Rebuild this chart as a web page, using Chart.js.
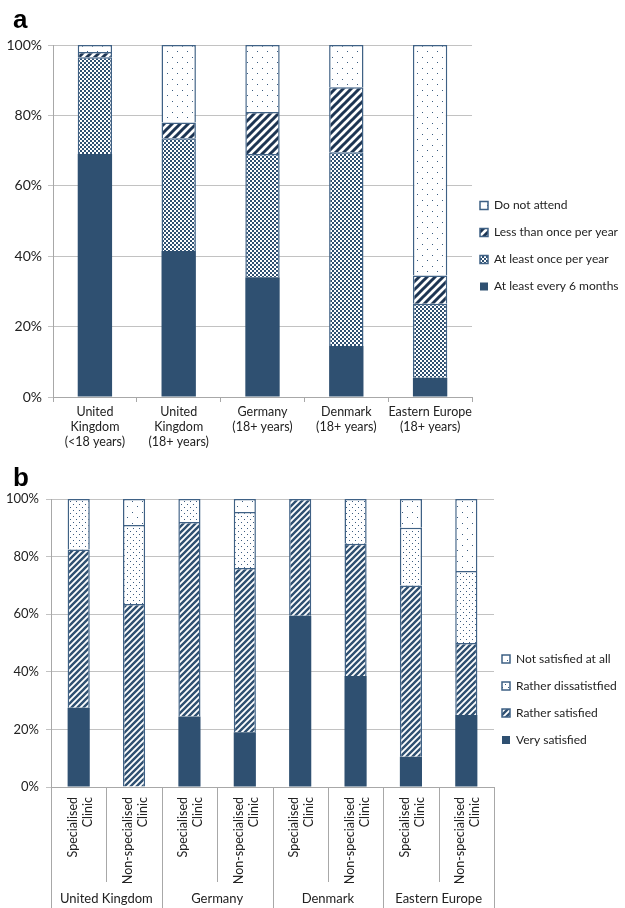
<!DOCTYPE html>
<html>
<head>
<meta charset="utf-8">
<script src="https://cdn.jsdelivr.net/npm/chart.js@4.4.1/dist/chart.umd.min.js"></script>
<style>
  body { margin: 0; background: #fff; }
  canvas { display: block; }
</style>
</head>
<body>
<canvas id="chartA" width="625" height="455"></canvas>
<canvas id="chartB" width="625" height="453"></canvas>
<script>
// --- panel a: how often clinics are attended
const attendCategories = [
    ['United', 'Kingdom', '(<18 years)'],
    ['United', 'Kingdom', '(18+ years)'],
    ['Germany', '(18+ years)'],
    ['Denmark', '(18+ years)'],
    ['Eastern Europe', '(18+ years)']
];
const every6Months = [69, 41.5, 34, 14.5, 5.5];
const oncePerYear = [27.5, 32, 35, 55, 21];
const lessThanYearly = [1.5, 4.5, 12, 18.5, 8];
const doNotAttend = [2, 22, 19, 12, 65.5];

// --- panel b: satisfaction by clinic type
const regions = ['United Kingdom', 'Germany', 'Denmark', 'Eastern Europe'];
const clinicTypes = [['Specialised', 'Clinic'], ['Non-specialised', 'Clinic']];
const verySatisfied = [27.5, 0, 24.5, 19, 59.5, 38.5, 10.5, 25];
const ratherSatisfied = [55, 63.5, 67.5, 57, 40.5, 46, 59.5, 25];
const ratherDissatisfied = [17.5, 27.5, 8, 19.5, 0, 15.5, 20, 25];
const notSatisfied = [0, 9, 0, 4.5, 0, 0, 10, 25];

const percentTicks = [0, 20, 40, 60, 80, 100];

Chart.defaults.font.family = 'Lato';
Chart.defaults.color = '#222';

const NAVY = '#2f5071';
const EDGE = '#3f6185';

function pattern(w, h, paint) {
    const c = document.createElement('canvas');
    c.width = w;
    c.height = h;
    const g = c.getContext('2d');
    g.fillStyle = '#fff';
    g.fillRect(0, 0, w, h);
    paint(g, w, h);
    return g.createPattern(c, 'repeat');
}

function stripes(g, w, h, color, lw) {
    g.strokeStyle = color;
    g.lineWidth = lw;
    g.beginPath();
    g.moveTo(0, h); g.lineTo(w, 0);
    g.moveTo(-w / 2, h / 2); g.lineTo(w / 2, -h / 2);
    g.moveTo(w / 2, h * 1.5); g.lineTo(w * 1.5, h / 2);
    g.stroke();
}

const sparseDots = pattern(10, 11, g => {
    g.fillStyle = '#3b5c80';
    g.fillRect(2, 2, 1, 1);
    g.fillRect(7, 7, 1, 1);
});
const denseDots = pattern(6, 6, g => {
    g.fillStyle = '#3b5c80';
    g.fillRect(1, 1, 1, 1);
    g.fillRect(4, 4, 1, 1);
});
const checker = pattern(4, 4, g => {
    g.fillStyle = NAVY;
    g.fillRect(0, 0, 4, 4);
    g.fillStyle = '#fff';
    g.fillRect(0, 0, 2, 2);
    g.fillRect(2, 2, 2, 2);
});
const boldHatch = pattern(8, 8, (g, w, h) => stripes(g, w, h, '#1d3553', 3));
const thinHatch = pattern(6, 6, (g, w, h) => stripes(g, w, h, NAVY, 2.4));

function segment(label, values, fill, border) {
    return {
        label: label,
        data: values.map(v => v || null),
        backgroundColor: fill,
        borderColor: EDGE,
        borderWidth: border
    };
}

// panel letter drawn on the canvas
const panelLetter = {
    id: 'panelLetter',
    afterDraw(chart, args, opts) {
        const ctx = chart.ctx;
        ctx.save();
        ctx.font = 'bold 26px "Liberation Sans"';
        ctx.fillStyle = '#000';
        ctx.textBaseline = 'alphabetic';
        ctx.fillText(opts.text, 13, opts.baseline);
        ctx.restore();
    }
};

// moves the legend a few pixels towards the plot
const nudgeLegend = {
    id: 'nudgeLegend',
    afterLayout(chart, args, opts) {
        const lg = chart.legend;
        lg.left += opts.dx;
        lg.right += opts.dx;
        lg.top += opts.dy;
        lg.bottom += opts.dy;
    }
};

// vertical dividers under panel b (short between clinic types, long between regions)
const clinicDividers = {
    id: 'clinicDividers',
    afterDraw(chart) {
        const x = chart.scales.x;
        const area = chart.chartArea;
        const ctx = chart.ctx;
        const n = x.getLabels().length;
        const step = x.width / n;
        ctx.save();
        ctx.strokeStyle = '#a8a8a8';
        ctx.lineWidth = 1;
        for (let i = 0; i <= n; i++) {
            const px = Math.round(x.left + i * step) + 0.5;
            const end = i % 2 === 0 ? chart.height : area.bottom + 95;
            ctx.beginPath();
            ctx.moveTo(px, area.bottom);
            ctx.lineTo(px, end);
            ctx.stroke();
        }
        ctx.restore();
    }
};

function yAxis(width, fontSize, pad) {
    return {
        stacked: true,
        min: 0,
        max: 100,
        afterFit: s => { s.width = width; },
        afterBuildTicks: s => { s.ticks = percentTicks.map(v => ({ value: v })); },
        ticks: { callback: v => v + '%', font: { size: fontSize }, padding: pad, color: '#222' },
        grid: { color: '#c2c2c2', tickLength: 5 },
        border: { color: '#a8a8a8' }
    };
}

function legendOpts(maxWidth) {
    return {
        position: 'right',
        reverse: true,
        maxWidth: maxWidth,
        labels: { boxWidth: 8, boxHeight: 8, padding: 15, font: { size: 12 }, color: '#222' }
    };
}

new Chart(document.getElementById('chartA'), {
    type: 'bar',
    data: {
        labels: attendCategories,
        datasets: [
            segment('At least every 6 months', every6Months, NAVY, 0),
            segment('At least once per year', oncePerYear, checker, 1.5),
            segment('Less than once per year', lessThanYearly, boldHatch, 1.5),
            segment('Do not attend', doNotAttend, sparseDots, 1.5)
        ]
    },
    options: {
        responsive: false,
        animation: false,
        layout: { padding: { top: 45, bottom: 0, left: 0, right: 0 } },
        datasets: { bar: { categoryPercentage: 1, barPercentage: 0.41 } },
        scales: {
            x: {
                stacked: true,
                afterFit: s => { s.height = 58; },
                grid: { offset: true, drawOnChartArea: false, tickLength: 5, color: '#a8a8a8' },
                border: { color: '#a8a8a8' },
                ticks: {
                    autoSkip: false, maxRotation: 0, padding: 2,
                    font: { size: 12.5, lineHeight: 1.2 }, color: '#222'
                }
            },
            y: yAxis(53, 14, 6)
        },
        plugins: {
            legend: legendOpts(153),
            tooltip: { enabled: false },
            panelLetter: { text: 'a', baseline: 28 },
            nudgeLegend: { dx: -7, dy: -4 }
        }
    },
    plugins: [panelLetter, nudgeLegend]
});

const clinicLabels = [];
regions.forEach(() => clinicTypes.forEach(t => clinicLabels.push(t)));

new Chart(document.getElementById('chartB'), {
    type: 'bar',
    data: {
        labels: clinicLabels,
        datasets: [
            segment('Very satisfied', verySatisfied, NAVY, 0),
            segment('Rather satisfied', ratherSatisfied, thinHatch, 1.5),
            segment('Rather dissatistfied', ratherDissatisfied, denseDots, 1.5),
            segment('Not satisfied at all', notSatisfied, sparseDots, 1.5)
        ]
    },
    options: {
        responsive: false,
        animation: false,
        layout: { padding: { top: 44, bottom: 0, left: 0, right: 0 } },
        datasets: { bar: { categoryPercentage: 1, barPercentage: 0.40 } },
        scales: {
            x: {
                stacked: true,
                afterFit: s => { s.height = 97; },
                grid: { display: false, drawTicks: false },
                border: { color: '#a8a8a8' },
                ticks: {
                    autoSkip: false, minRotation: 90, maxRotation: 90, padding: 10, labelOffset: -6,
                    font: { size: 12.5, lineHeight: 1.2 }, color: '#222'
                }
            },
            region: {
                type: 'category',
                position: 'bottom',
                labels: regions,
                offset: true,
                afterFit: s => { s.height = 24; },
                grid: { display: false, drawTicks: false },
                border: { display: false },
                ticks: { autoSkip: false, maxRotation: 0, padding: 7, font: { size: 13, lineHeight: 1.15 }, color: '#222' }
            },
            y: yAxis(51, 13, 7)
        },
        plugins: {
            legend: legendOpts(131),
            tooltip: { enabled: false },
            panelLetter: { text: 'b', baseline: 31 },
            nudgeLegend: { dx: -7, dy: -4 }
        }
    },
    plugins: [panelLetter, nudgeLegend, clinicDividers]
});
</script>
</body>
</html>
